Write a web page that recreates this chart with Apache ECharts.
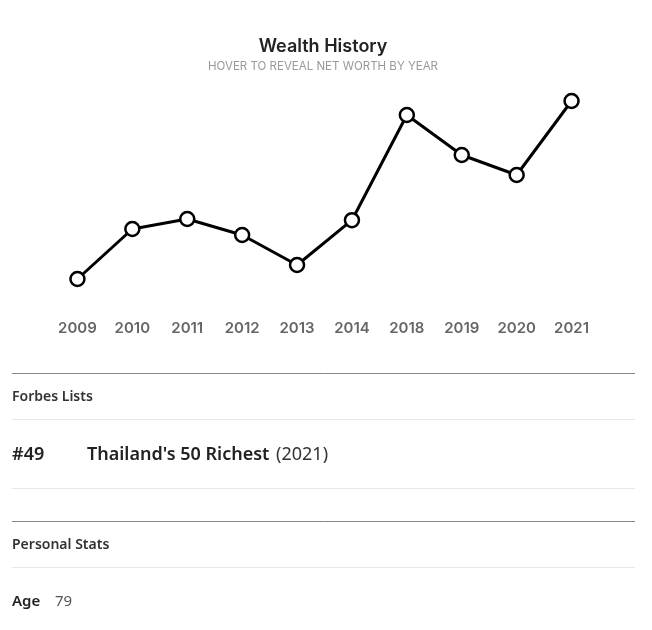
<!DOCTYPE html>
<html>
<head>
<meta charset="utf-8">
<script src="https://cdn.jsdelivr.net/npm/echarts@6/dist/echarts.min.js"></script>
<style>
html,body{margin:0;padding:0;background:#ffffff;}
#c{width:652px;height:630px;}
</style>
</head>
<body>
<div id="c"></div>
<script>
// Data (net worth, billions USD)
const years = ['2009','2010','2011','2012','2013','2014','2018','2019','2020','2021'];
const netWorth = [0.35, 0.475, 0.5, 0.46, 0.385, 0.497, 0.76, 0.66, 0.61, 0.795];
const listRank = '#49';
const listName = "Thailand's 50 Richest";
const listYear = '(2021)';
const ageLabel = 'Age';
const ageValue = '79';

const chart = echarts.init(document.getElementById('c'), null, {renderer: 'canvas'});
const sans = '"Noto Sans", "Open Sans", sans-serif';
const titleFont = 'Inter, "Open Sans", sans-serif';

chart.setOption({
  backgroundColor: '#ffffff',
  animation: false,
  title: {
    text: 'Wealth History',
    subtext: 'HOVER TO REVEAL NET WORTH BY YEAR',
    left: 318,
    top: 33,
    textAlign: 'center',
    itemGap: 5,
    textStyle: {fontFamily: titleFont, fontSize: 18, fontWeight: 600, color: '#222'},
    subtextStyle: {fontFamily: titleFont, fontSize: 11.5, color: '#999'}
  },
  grid: {left: 50, top: 79, width: 549, height: 220},
  xAxis: {
    type: 'category',
    data: years,
    boundaryGap: true,
    axisLine: {show: false},
    axisTick: {show: false},
    splitLine: {show: false},
    axisLabel: {margin: 22, fontFamily: titleFont, fontSize: 15, fontWeight: 600, color: '#666'}
  },
  yAxis: {
    type: 'value',
    min: 0.3,
    max: 0.85,
    show: false
  },
  series: [{
    type: 'line',
    data: netWorth,
    symbol: 'circle',
    symbolSize: 14,
    lineStyle: {color: '#000', width: 3},
    itemStyle: {color: '#fff', borderColor: '#000', borderWidth: 2.5}
  }],
  graphic: [
    {type: 'line', shape: {x1: 12, y1: 373.5, x2: 635, y2: 373.5}, style: {stroke: '#888', lineWidth: 1}},
    {type: 'text', left: 12, top: 390, style: {text: 'Forbes Lists', font: '600 14px ' + sans, fill: '#333'}},
    {type: 'line', shape: {x1: 12, y1: 419.5, x2: 635, y2: 419.5}, style: {stroke: '#e8e8e8', lineWidth: 1}},
    {type: 'text', left: 12, top: 446, style: {text: listRank, font: '600 18px ' + sans, fill: '#222'}},
    {type: 'text', left: 87, top: 446, style: {
      text: '{b|' + listName + '}  {r|' + listYear + '}',
      rich: {
        b: {font: '600 18px ' + sans, fill: '#222', color: '#222'},
        r: {font: '400 18px ' + sans, fill: '#333', color: '#333'}
      }
    }},
    {type: 'line', shape: {x1: 12, y1: 488.5, x2: 635, y2: 488.5}, style: {stroke: '#e8e8e8', lineWidth: 1}},
    {type: 'line', shape: {x1: 12, y1: 521.5, x2: 635, y2: 521.5}, style: {stroke: '#888', lineWidth: 1}},
    {type: 'text', left: 12, top: 538, style: {text: 'Personal Stats', font: '600 14px ' + sans, fill: '#333'}},
    {type: 'line', shape: {x1: 12, y1: 567.5, x2: 635, y2: 567.5}, style: {stroke: '#e8e8e8', lineWidth: 1}},
    {type: 'text', left: 12, top: 594, style: {text: ageLabel, font: '600 15px ' + sans, fill: '#222'}},
    {type: 'text', left: 55, top: 594, style: {text: ageValue, font: '400 15px ' + sans, fill: '#555'}}
  ]
});
</script>
</body>
</html>
